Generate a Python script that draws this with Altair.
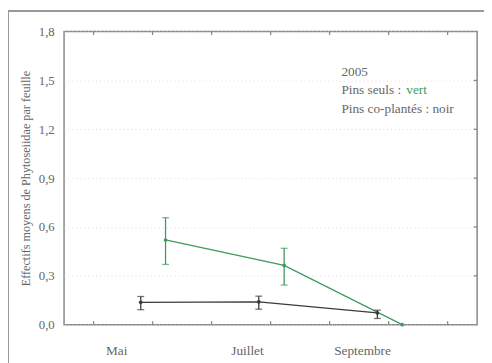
import altair as alt
import pandas as pd

# --- data ---
black_x = [5.80, 7.80, 9.81]
black_y = [0.137, 0.140, 0.072]
black_lo = [0.092, 0.095, 0.038]
black_hi = [0.173, 0.175, 0.089]

green_x = [6.22, 8.23, 10.23]
green_y = [0.520, 0.364, 0.0]
green_lo = [0.370, 0.243, None]
green_hi = [0.657, 0.469, None]

month_label_pos = [5.383, 7.60, 9.55]
month_labels = ["Mai", "Juillet", "Septembre"]
month_ticks = [5, 6, 7, 8, 9, 10, 11]
y_ticks = [0.0, 0.3, 0.6, 0.9, 1.2, 1.5, 1.8]
y_inner_ticks = [0.3, 0.6, 0.9, 1.2, 1.5]

legend_x = [9.2, 9.2, 9.2, 10.30]
legend_y = [1.552, 1.438, 1.323, 1.438]
legend_text = ["2005", "Pins seuls :", "Pins co-plantés : noir", "vert"]

GREEN = "#3f9a5e"
BLACK = "#3a3a3a"
GRAY = "#666666"
FONT = "Liberation Serif"

black = pd.DataFrame({"x": black_x, "y": black_y, "lo": black_lo, "hi": black_hi})
green = pd.DataFrame({"x": green_x, "y": green_y, "lo": green_lo, "hi": green_hi})
green_err = green.dropna()

label_expr = "datum.value < 6.5 ? 'Mai' : datum.value < 8.5 ? 'Juillet' : 'Septembre'"

xscale = alt.Scale(domain=[4.5, 11.5], nice=False, zero=False)
yscale = alt.Scale(domain=[0, 1.8], nice=False)

xenc = alt.X("x:Q", scale=xscale,
             axis=alt.Axis(values=month_label_pos, labelExpr=label_expr, ticks=False,
                           domain=False, grid=False, title=None, labelFont=FONT,
                           labelFontSize=13.5, labelColor=GRAY, labelPadding=19))
yenc = alt.Y("y:Q", scale=yscale,
             axis=alt.Axis(values=y_ticks, format=".1f",
                           labelExpr="replace(datum.label, '.', ',')",
                           ticks=False, domain=False, grid=True, gridColor="#dcdcdc",
                           gridDash=[1, 3], gridWidth=1,
                           title="Effectifs moyens de Phytoseiidae par feuille",
                           titleFont=FONT, titleFontSize=12.4, titleFontWeight="normal",
                           titleColor=GRAY, titlePadding=6,
                           labelFont=FONT, labelFontSize=13, labelColor=GRAY,
                           labelPadding=10))

def series(df, err, color):
    line = alt.Chart(df).mark_line(color=color, strokeWidth=1.3).encode(x=xenc, y=yenc)
    pts = alt.Chart(df).mark_circle(color=color, size=14, opacity=1).encode(x="x:Q", y="y:Q")
    bar = alt.Chart(err).mark_rule(color=color, strokeWidth=1.3).encode(
        x="x:Q", y="lo:Q", y2="hi:Q")
    cap_lo = alt.Chart(err).mark_tick(color=color, orient="horizontal", size=7,
                                      thickness=1.3).encode(x="x:Q", y="lo:Q")
    cap_hi = alt.Chart(err).mark_tick(color=color, orient="horizontal", size=7,
                                      thickness=1.3).encode(x="x:Q", y="hi:Q")
    return [line, bar, cap_lo, cap_hi, pts]

ticks_df = pd.DataFrame({"x": month_ticks})
bot_ticks = alt.Chart(ticks_df).mark_rule(color="#888", strokeWidth=1.3).encode(
    x="x:Q", y=alt.value(298), y2=alt.value(294.5))
top_ticks = alt.Chart(ticks_df).mark_rule(color="#888", strokeWidth=1.3).encode(
    x="x:Q", y=alt.value(0), y2=alt.value(3.5))
yt_df = pd.DataFrame({"y": y_inner_ticks})
right_ticks = alt.Chart(yt_df).mark_rule(color="#888", strokeWidth=1.3).encode(
    y="y:Q", x=alt.value(420), x2=alt.value(416.5))

one = pd.DataFrame({"a": [0]})
frame_top = alt.Chart(one).mark_rule(color="#999", strokeWidth=2).encode(
    x=alt.value(-57), x2=alt.value(430), y=alt.value(-21))
frame_left = alt.Chart(one).mark_rule(color="#999", strokeWidth=2).encode(
    x=alt.value(-57), y=alt.value(-21), y2=alt.value(340))

leg = pd.DataFrame({"x": legend_x, "y": legend_y, "t": legend_text,
                    "c": [GRAY, GRAY, GRAY, GREEN]})
legend = alt.Chart(leg).mark_text(align="left", baseline="middle", font=FONT,
                                  fontSize=13.5).encode(
    x="x:Q", y="y:Q", text="t:N", color=alt.Color("c:N", scale=None))

layers = series(green, green_err, GREEN) + series(black, black, BLACK)
chart = alt.layer(*layers, bot_ticks, top_ticks, right_ticks, legend, frame_top, frame_left).properties(
    width=420, height=298,
    autosize=alt.AutoSizeParams(type="none"),
    padding={"left": 57, "top": 21, "right": 7, "bottom": 36},
    background="white",
).configure_view(stroke="#888", strokeWidth=1.5)

chart.save("out.html", embed_options={"renderer": "svg", "actions": False})
